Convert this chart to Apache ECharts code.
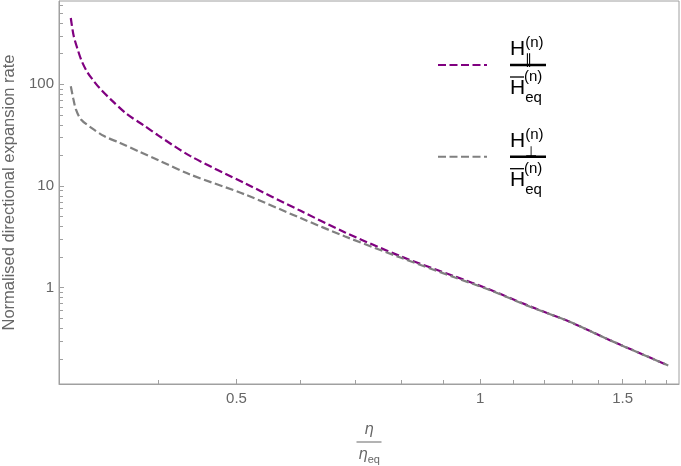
<!DOCTYPE html>
<html>
<head>
<meta charset="utf-8">
<script src="https://cdn.jsdelivr.net/npm/echarts@6/dist/echarts.min.js"></script>
<style>
html,body{margin:0;padding:0;background:#fff;}
#chart{width:681px;height:466px;}
</style>
</head>
<body>
<div id="chart"></div>
<script>
// ---- data (log-log plot) ----
const seriesNames = ['par', 'perp'];
const etaPar = [0.312, 0.3145, 0.318, 0.322, 0.327, 0.333, 0.339, 0.349, 0.366, 0.384, 0.400, 0.438, 0.5125, 0.600, 0.681, 0.797, 0.931, 1.024, 1.153, 1.292, 1.447, 1.708];
const ratePar = [449, 302, 223, 168, 132, 108, 91, 72, 51, 39.5, 31.5, 19.8, 10.6, 5.7, 3.5, 2.04, 1.29, 0.97, 0.655, 0.46, 0.305, 0.172];
const etaPerp = [0.312, 0.3143, 0.3165, 0.321, 0.3305, 0.343, 0.359, 0.380, 0.4005, 0.438, 0.5125, 0.600, 0.681, 0.797, 0.931, 1.024, 1.153, 1.292, 1.447, 1.708];
const ratePerp = [95.6, 71.6, 57.1, 45.4, 37.6, 31.0, 26.5, 21.6, 17.9, 13.0, 8.24, 4.84, 3.19, 1.98, 1.26, 0.96, 0.65, 0.46, 0.304, 0.172];

// ---- axis ticks ----
const xRange = [0.3017, 1.761];
const yRange = [0.113, 660];
const xTickLabels = [0.5, 1, 1.5];
const xMinorTicks = [0.4, 0.6, 0.7, 0.8, 0.9, 1.1, 1.2, 1.3, 1.4, 1.6, 1.7];
const yTickLabels = [1, 10, 100];
const yMinorTicks = [0.2, 0.3, 0.4, 0.5, 0.6, 0.7, 0.8, 0.9, 2, 3, 4, 5, 6, 7, 8, 9, 20, 30, 40, 50, 60, 70, 80, 90, 200, 300, 400, 500, 600];

const colors = ['#800080', '#808080'];
const L = Math.log10;
const fmt = v => String(parseFloat(Math.pow(10, v).toPrecision(3)));

const axisColor = '#a0a0a0';
const labelColor = '#666666';
const font = 'Liberation Sans, Arial, Helvetica, sans-serif';

const chart = echarts.init(document.getElementById('chart'), null, {renderer: 'canvas'});

const k = '#000';
const legendRich = {
  sp1: {width: 18, lineHeight: 42},
  sp2: {width: 18, lineHeight: 4},
  sp3: {width: 18, lineHeight: 20},
  sp4: {width: 18, lineHeight: 22},
  h:    {fontSize: 21, fontFamily: font, color: k, verticalAlign: 'top', height: 56.4, lineHeight: 1},
  sub:  {fontSize: 14, fontFamily: font, color: k, verticalAlign: 'top', height: 79, lineHeight: 1, width: 0, align: 'left'},
  sup:  {fontSize: 15, fontFamily: font, color: k, verticalAlign: 'top', height: 44, lineHeight: 1},
  bar:  {width: 36, height: 2.5, lineHeight: 4, backgroundColor: k},
  ov:   {width: 14, height: 1.3, lineHeight: 1, backgroundColor: k},
  supd: {fontSize: 15, fontFamily: font, color: k, lineHeight: 1},
  hb:   {fontSize: 21, fontFamily: font, color: k, verticalAlign: 'top', height: 2.6, lineHeight: 1},
  eq:   {fontSize: 15, fontFamily: font, color: k, verticalAlign: 'top', height: 22, lineHeight: 1}
};
const legendText = {
  par: '{sp1|}{h|H}{sub|∥}{sup|(n)}\n{sp2|}{bar|}\n{sp3|}{ov|}{supd|(n)}\n{sp4|}{hb|H}{eq|eq}',
  perp: '{sp1|}{h|H}{sub|⊥}{sup|(n)}\n{sp2|}{bar|}\n{sp3|}{ov|}{supd|(n)}\n{sp4|}{hb|H}{eq|eq}'
};

const option = {
  animation: false,
  backgroundColor: '#ffffff',
  color: colors,
  grid: {left: 59, right: 2, top: 1, bottom: 82, outerBoundsMode: 'none', containLabel: false, show: true, borderColor: axisColor, borderWidth: 1, backgroundColor: 'transparent'},
  legend: {
    orient: 'vertical', left: 437, top: 21, padding: 0,
    itemWidth: 49, itemHeight: 14, itemGap: 3.7,
    data: seriesNames,
    itemStyle: {opacity: 0},
    formatter: name => legendText[name],
    textStyle: {rich: legendRich, color: k, fontFamily: font}
  },
  xAxis: [{
    type: 'value', min: L(xRange[0]), max: L(xRange[1]),
    name: '{num|η}\n{bar|}\n{den|η}{sub|eq}',
    nameLocation: 'middle', nameGap: 37,
    nameTextStyle: {
      color: labelColor,
      rich: {
        num: {fontSize: 15, fontStyle: 'italic', fontFamily: 'DejaVu Sans, sans-serif', lineHeight: 18, color: labelColor},
        bar: {width: 25, height: 1, lineHeight: 6, backgroundColor: labelColor},
        den: {fontSize: 15, fontStyle: 'italic', fontFamily: 'DejaVu Sans, sans-serif', lineHeight: 20, color: labelColor},
        sub: {fontSize: 11, fontFamily: font, lineHeight: 14, verticalAlign: 'bottom', color: labelColor}
      }
    },
    axisLine: {show: true, onZero: false, lineStyle: {color: axisColor, width: 1}},
    axisTick: {show: true, inside: true, length: 5, customValues: xTickLabels.map(L), lineStyle: {color: axisColor}},
    axisLabel: {show: true, customValues: xTickLabels.map(L), formatter: fmt, color: labelColor, fontSize: 15, fontFamily: font, margin: 7},
    splitLine: {show: false}
  }, {
    type: 'value', position: 'bottom', min: L(xRange[0]), max: L(xRange[1]),
    axisLine: {show: false, onZero: false},
    axisTick: {show: true, inside: true, length: 4, customValues: xMinorTicks.map(L), lineStyle: {color: axisColor}},
    axisLabel: {show: false},
    splitLine: {show: false}
  }],
  yAxis: [{
    type: 'value', min: L(yRange[0]), max: L(yRange[1]),
    name: 'Normalised directional expansion rate',
    nameLocation: 'middle', nameGap: 40,
    nameTextStyle: {color: labelColor, fontSize: 16.5, fontFamily: font},
    axisLine: {show: true, onZero: false, lineStyle: {color: axisColor, width: 1}},
    axisTick: {show: true, inside: true, length: 5, customValues: yTickLabels.map(L), lineStyle: {color: axisColor}},
    axisLabel: {show: true, customValues: yTickLabels.map(L), formatter: fmt, color: labelColor, fontSize: 15, fontFamily: font, margin: 5},
    splitLine: {show: false}
  }, {
    type: 'value', position: 'left', min: L(yRange[0]), max: L(yRange[1]),
    axisLine: {show: false, onZero: false},
    axisTick: {show: true, inside: true, length: 4, customValues: yMinorTicks.map(L), lineStyle: {color: axisColor}},
    axisLabel: {show: false},
    splitLine: {show: false}
  }],
  series: [{
    name: 'par', type: 'line', xAxisIndex: 0, yAxisIndex: 0,
    symbol: 'none', showSymbol: false, smooth: 0.3,
    lineStyle: {color: colors[0], width: 2.2, type: [8, 3.5]},
    itemStyle: {color: colors[0]},
    data: etaPar.map((e, i) => [L(e), L(ratePar[i])])
  }, {
    name: 'perp', type: 'line', xAxisIndex: 0, yAxisIndex: 0,
    symbol: 'none', showSymbol: false, smooth: 0.3,
    lineStyle: {color: colors[1], width: 2.2, type: [8, 3.5]},
    itemStyle: {color: colors[1]},
    data: etaPerp.map((e, i) => [L(e), L(ratePerp[i])])
  }]
};
chart.setOption(option);
</script>
</body>
</html>
